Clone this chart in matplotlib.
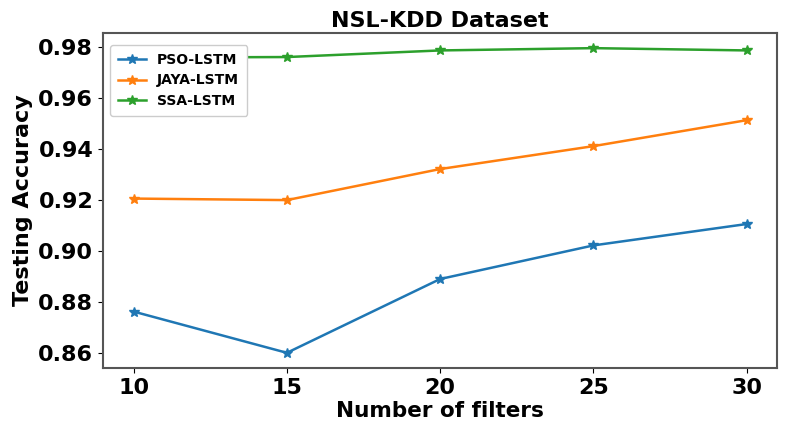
import matplotlib
matplotlib.use("Agg")
import matplotlib.pyplot as plt

filters = [10, 15, 20, 25, 30]
pso = [0.8762, 0.8600, 0.8890, 0.9022, 0.9106]
jaya = [0.9206, 0.9200, 0.9322, 0.9412, 0.9514]
ssa = [0.9760, 0.9762, 0.9788, 0.9797, 0.9788]

fig = plt.figure(figsize=(7.86, 4.33), dpi=100)
ax = fig.add_axes([0.131, 0.150, 0.858, 0.774])
ax.plot(filters, pso, marker='*', markersize=7, lw=1.8, color='#1f77b4', label='PSO-LSTM')
ax.plot(filters, jaya, marker='*', markersize=7, lw=1.8, color='#ff7f0e', label='JAYA-LSTM')
ax.plot(filters, ssa, marker='*', markersize=7, lw=1.8, color='#2ca02c', label='SSA-LSTM')

ax.set_xticks(filters)
ax.set_yticks([0.86, 0.88, 0.90, 0.92, 0.94, 0.96, 0.98])
ax.set_yticklabels(['0.86', '0.88', '0.90', '0.92', '0.94', '0.96', '0.98'])
for lab in ax.get_xticklabels() + ax.get_yticklabels():
    lab.set_fontweight('bold')
    lab.set_fontsize(16)
ax.set_xlabel('Number of filters', fontsize=15.5, fontweight='bold', labelpad=2)
ax.set_ylabel('Testing Accuracy', fontsize=16, fontweight='bold', labelpad=4)
ax.set_title('NSL-KDD Dataset', fontsize=16, fontweight='bold', pad=4)
for s in ax.spines.values():
    s.set_color('#555555')
    s.set_linewidth(1.5)
leg = ax.legend(loc='upper left', prop={'weight': 'bold', 'size': 10},
                handlelength=2.0, labelspacing=0.45, framealpha=1.0,
                borderpad=0.6, bbox_to_anchor=(0.0, 0.985))
fig.savefig('out.png', dpi=100)
